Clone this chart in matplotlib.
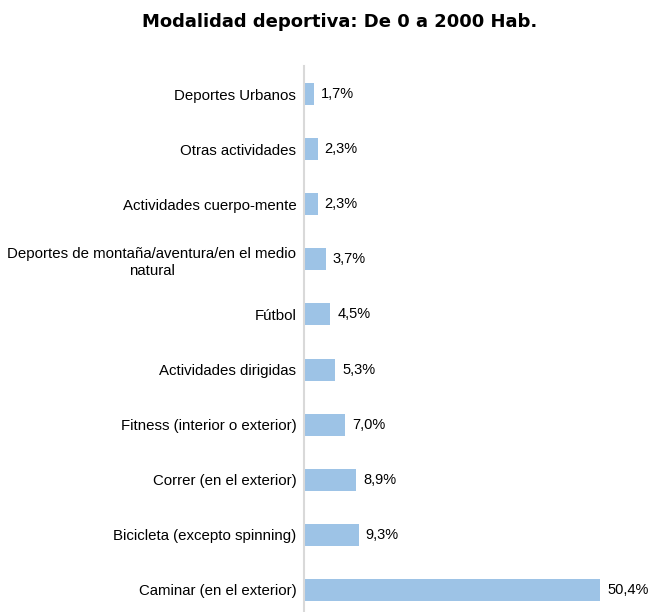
import matplotlib
matplotlib.use("Agg")
import matplotlib.pyplot as plt

categories = ["Deportes Urbanos", "Otras actividades", "Actividades cuerpo-mente",
              "Deportes de montaña/aventura/en el medio\nnatural", "Fútbol",
              "Actividades dirigidas", "Fitness (interior o exterior)",
              "Correr (en el exterior)", "Bicicleta (excepto spinning)",
              "Caminar (en el exterior)"]
values = [1.7, 2.3, 2.3, 3.7, 4.5, 5.3, 7.0, 8.9, 9.3, 50.4]
title = "Modalidad deportiva: De 0 a 2000 Hab."

plt.rcParams['font.family'] = ['Liberation Sans', 'DejaVu Sans']

W, H = 650, 612
fig = plt.figure(figsize=(W/100, H/100), dpi=100)
left, right = 304, 640
top, bottom = 66.5, 617.5
ax = fig.add_axes([left/W, 1 - bottom/H, (right-left)/W, (bottom-top)/H])
px_per = (600 - 304) / 50.4
ax.set_xlim(0, (right-left)/px_per)
n = len(categories)
ax.set_ylim(n - 0.5, -0.5)
ys = list(range(n))
ax.barh(ys, values, height=0.4, color="#9DC3E6")
for y, v in zip(ys, values):
    ax.text(v + 7/px_per, y, f"{v:.1f}%".replace(".", ","), va="center", ha="left",
            fontsize=10.5, color="#000000")
ax.set_yticks(ys)
ax.set_yticklabels(categories, fontsize=10.8, linespacing=1.3)
ax.tick_params(axis="y", length=0, pad=5.5)
for lbl in ax.get_yticklabels():
    lbl.set_horizontalalignment("right")
    lbl.set_multialignment("center")
ax.set_xticks([])
for s in ["top", "right", "bottom"]:
    ax.spines[s].set_visible(False)
ax.spines["left"].set_color("#D9D9D9")
ax.spines["left"].set_linewidth(1.5)
fig.text(340/W, 1 - 22/H, title, ha="center", va="center", fontsize=13,
         fontweight="heavy", family=["DejaVu Sans"])
fig.savefig("out.png", dpi=100)
